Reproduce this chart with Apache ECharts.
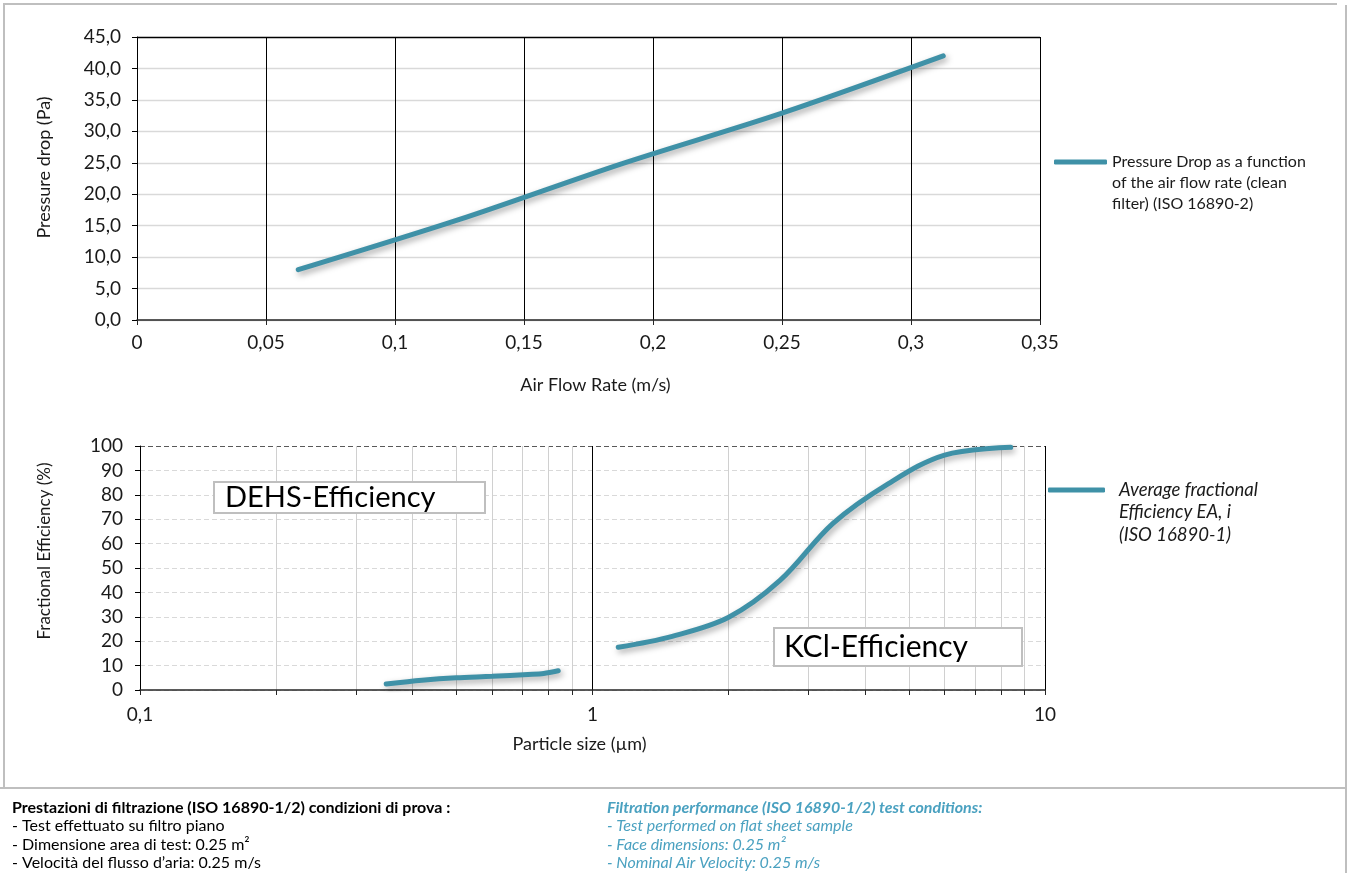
<!DOCTYPE html>
<html>
<head>
<meta charset="utf-8">
<script src="https://cdn.jsdelivr.net/npm/echarts@6/dist/echarts.min.js"></script>
<style>
html,body{margin:0;padding:0;background:#fff;}
#chart{width:1354px;height:873px;}
</style>
</head>
<body>
<div id="chart"></div>
<script>
// Top chart: pressure drop vs air flow rate
const flowRate = [0.0625, 0.125, 0.1875, 0.25, 0.3125];
const pressureDrop = [8.0, 16.0, 24.8, 32.9, 42.0];

// Bottom chart: fractional efficiency vs particle size
const dehsSize = [0.35, 0.42, 0.5, 0.6, 0.72, 0.78, 0.84];
const dehsEff = [2.5, 4.0, 5.0, 5.6, 6.4, 6.8, 7.9];
const kclSize = [1.14, 1.5, 2.0, 2.6, 3.4, 4.5, 6.0, 8.4];
const kclEff = [17.5, 22.0, 29.8, 45.0, 68.3, 84.5, 96.3, 99.5];

const seriesTopName = 'Pressure Drop as a function\nof the air flow rate (clean\nfilter) (ISO 16890-2)';
const seriesBottomName = 'Average fractional\nEfficiency EA, i\n(ISO 16890-1)';

const notesIt = [
  'Prestazioni di filtrazione (ISO 16890-1/2) condizioni di prova :',
  '- Test effettuato su filtro piano',
  '- Dimensione area di test: 0.25 m²',
  '- Velocità del flusso d’aria: 0.25 m/s'
];
const notesEn = [
  'Filtration performance (ISO 16890-1/2) test conditions:',
  '- Test performed on flat sheet sample',
  '- Face dimensions: 0.25 m²',
  '- Nominal Air Velocity: 0.25 m/s'
];

const FONT = 'Lato, "Open Sans", sans-serif';
const LINE = '#3f91a7';
const BLUE = '#4aa1c0';
const FRAME = '#bfbfbf';
const TXT = '#1a1a1a';

const comma = v => String(v).replace('.', ',');
const zip = (a, b) => a.map((x, i) => [x, b[i]]);

const chart = echarts.init(document.getElementById('chart'), null, {renderer: 'canvas'});

const lineShadow = {shadowColor: 'rgba(0,0,0,0.35)', shadowBlur: 6, shadowOffsetX: 2, shadowOffsetY: 3};

const topYColors = ['#d9d9d9','#d9d9d9','#d9d9d9','#d9d9d9','#d9d9d9','#d9d9d9','#d9d9d9','#d9d9d9','#d9d9d9','#000000'];
const botYColors = ['#d9d9d9','#d9d9d9','#d9d9d9','#d9d9d9','#d9d9d9','#d9d9d9','#d9d9d9','#d9d9d9','#d9d9d9','#d9d9d9','#595959'];

function noteTexts(lines, x, y0, dy, color, italic) {
  return lines.map((t, i) => ({
    type: 'text',
    left: x, top: y0 + i * dy,
    style: {
      text: t,
      font: (italic ? 'italic ' : '') + (i === 0 ? 'bold ' : '') + '16px ' + FONT,
      fill: color
    }
  }));
}

const option = {
  backgroundColor: '#fff',
  animation: false,
  textStyle: {fontFamily: FONT},
  grid: [
    {left: 137, top: 37, width: 903, height: 283},
    {left: 140, top: 446, width: 905, height: 244}
  ],
  xAxis: [
    {
      gridIndex: 0, type: 'value', min: 0, max: 0.35, interval: 0.05,
      name: 'Air Flow Rate (m/s)', nameLocation: 'middle', nameGap: 56,
      nameTextStyle: {fontSize: 18, color: TXT, fontFamily: FONT, padding: [0, 0, 0, 14]},
      axisLine: {show: true, lineStyle: {color: '#262626', width: 1.5}},
      axisTick: {show: true, length: 5, lineStyle: {color: '#262626'}},
      axisLabel: {fontSize: 19, color: TXT, margin: 13, fontFamily: FONT,
        formatter: v => comma(+v.toFixed(2))},
      splitLine: {show: true, lineStyle: {color: '#000', width: 1}}
    },
    {
      gridIndex: 1, type: 'log', logBase: 10, min: 0.1, max: 10,
      name: 'Particle size (µm)', nameLocation: 'middle', nameGap: 45,
      nameTextStyle: {fontSize: 18, color: TXT, fontFamily: FONT, padding: [0, 26, 0, 0]},
      axisLine: {show: true, lineStyle: {color: '#262626', width: 1.5}},
      axisTick: {show: true, length: 5, lineStyle: {color: '#262626'}},
      minorTick: {show: true, splitNumber: 9, length: 5, lineStyle: {color: '#262626'}},
      axisLabel: {fontSize: 19, color: TXT, margin: 15, fontFamily: FONT,
        formatter: v => comma(+(+v).toPrecision(3))},
      splitLine: {show: true, lineStyle: {color: '#000', width: 1}},
      minorSplitLine: {show: true, lineStyle: {color: '#d0d0d0', width: 1}}
    }
  ],
  yAxis: [
    {
      gridIndex: 0, type: 'value', min: 0, max: 45, interval: 5,
      name: 'Pressure drop (Pa)', nameLocation: 'middle', nameGap: 84,
      nameTextStyle: {fontSize: 18, color: TXT, fontFamily: FONT, padding: [0, 0, 0, 22]},
      axisLine: {show: true, lineStyle: {color: '#000', width: 1}},
      axisTick: {show: true, length: 5, lineStyle: {color: '#000'}},
      axisLabel: {fontSize: 19, color: TXT, margin: 16, fontFamily: FONT,
        formatter: v => comma(v.toFixed(1))},
      splitLine: {show: true, lineStyle: {color: topYColors, width: 1.3}}
    },
    {
      gridIndex: 1, type: 'value', min: 0, max: 100, interval: 10,
      name: 'Fractional Efficiency (%)', nameLocation: 'middle', nameGap: 87,
      nameTextStyle: {fontSize: 17, color: TXT, fontFamily: FONT, padding: [0, 0, 0, 34]},
      axisLine: {show: true, lineStyle: {color: '#000', width: 1}},
      axisTick: {show: true, length: 5, lineStyle: {color: '#000'}},
      axisLabel: {fontSize: 19, color: TXT, margin: 17, fontFamily: FONT},
      splitLine: {show: true, lineStyle: {color: botYColors, width: 1, type: [5, 3]}}
    }
  ],
  legend: [
    {
      data: [seriesTopName], left: 1054, top: 109.5, padding: 0,
      icon: 'roundRect', itemWidth: 53, itemHeight: 5,
      formatter: n => '\n\n' + n,
      textStyle: {fontSize: 16, color: TXT, lineHeight: 21, fontFamily: FONT}
    },
    {
      data: [seriesBottomName], left: 1048, top: 433.75, padding: 0,
      icon: 'roundRect', itemWidth: 57, itemHeight: 5,
      formatter: n => '\n\n' + n,
      textStyle: {fontSize: 18.5, color: TXT, fontStyle: 'italic', lineHeight: 22.5, padding: [0, 0, 0, 9], fontFamily: FONT}
    }
  ],
  series: [
    {
      name: seriesTopName, type: 'line', xAxisIndex: 0, yAxisIndex: 0,
      data: zip(flowRate, pressureDrop), smooth: 0.3, showSymbol: false, symbol: 'none',
      lineStyle: Object.assign({color: LINE, width: 5, cap: 'round'}, lineShadow),
      itemStyle: {color: LINE}
    },
    {
      name: seriesBottomName, type: 'line', xAxisIndex: 1, yAxisIndex: 1,
      data: zip(dehsSize, dehsEff), smooth: 0.3, showSymbol: false, symbol: 'none',
      lineStyle: Object.assign({color: LINE, width: 5, cap: 'round'}, lineShadow),
      itemStyle: {color: LINE}
    },
    {
      name: seriesBottomName, type: 'line', xAxisIndex: 1, yAxisIndex: 1,
      data: zip(kclSize, kclEff), smooth: 0.35, showSymbol: false, symbol: 'none',
      lineStyle: Object.assign({color: LINE, width: 5, cap: 'round'}, lineShadow),
      itemStyle: {color: LINE}
    }
  ],
  graphic: [
    // outer frame
    {type: 'polyline', silent: true, z: -10,
      shape: {points: [[4, 788], [4, 4], [1337, 4]]},
      style: {stroke: FRAME, lineWidth: 2, fill: null}},
    {type: 'line', silent: true, z: -10,
      shape: {x1: 1346, y1: 5, x2: 1346, y2: 873},
      style: {stroke: FRAME, lineWidth: 2}},
    {type: 'line', silent: true, z: -10,
      shape: {x1: 0, y1: 788, x2: 1346, y2: 788},
      style: {stroke: FRAME, lineWidth: 2}},
    // annotation boxes
    {type: 'text', left: 213, top: 481, z: 10,
      style: {text: 'DEHS-Efficiency', font: '29px ' + FONT, fill: '#000',
        backgroundColor: '#fff', borderColor: FRAME, borderWidth: 2,
        padding: [0, 40, 0, 10], width: 219}},
    {type: 'text', left: 773, top: 627, z: 10,
      style: {text: 'KCl-Efficiency', font: '30px ' + FONT, fill: '#000',
        backgroundColor: '#fff', borderColor: FRAME, borderWidth: 2,
        padding: [3, 46, 3, 9], width: 191}},
    ...noteTexts(notesIt, 12, 800, 18.3, '#000', false),
    ...noteTexts(notesEn, 607, 800, 18.3, BLUE, true)
  ]
};

chart.setOption(option);
</script>
</body>
</html>
